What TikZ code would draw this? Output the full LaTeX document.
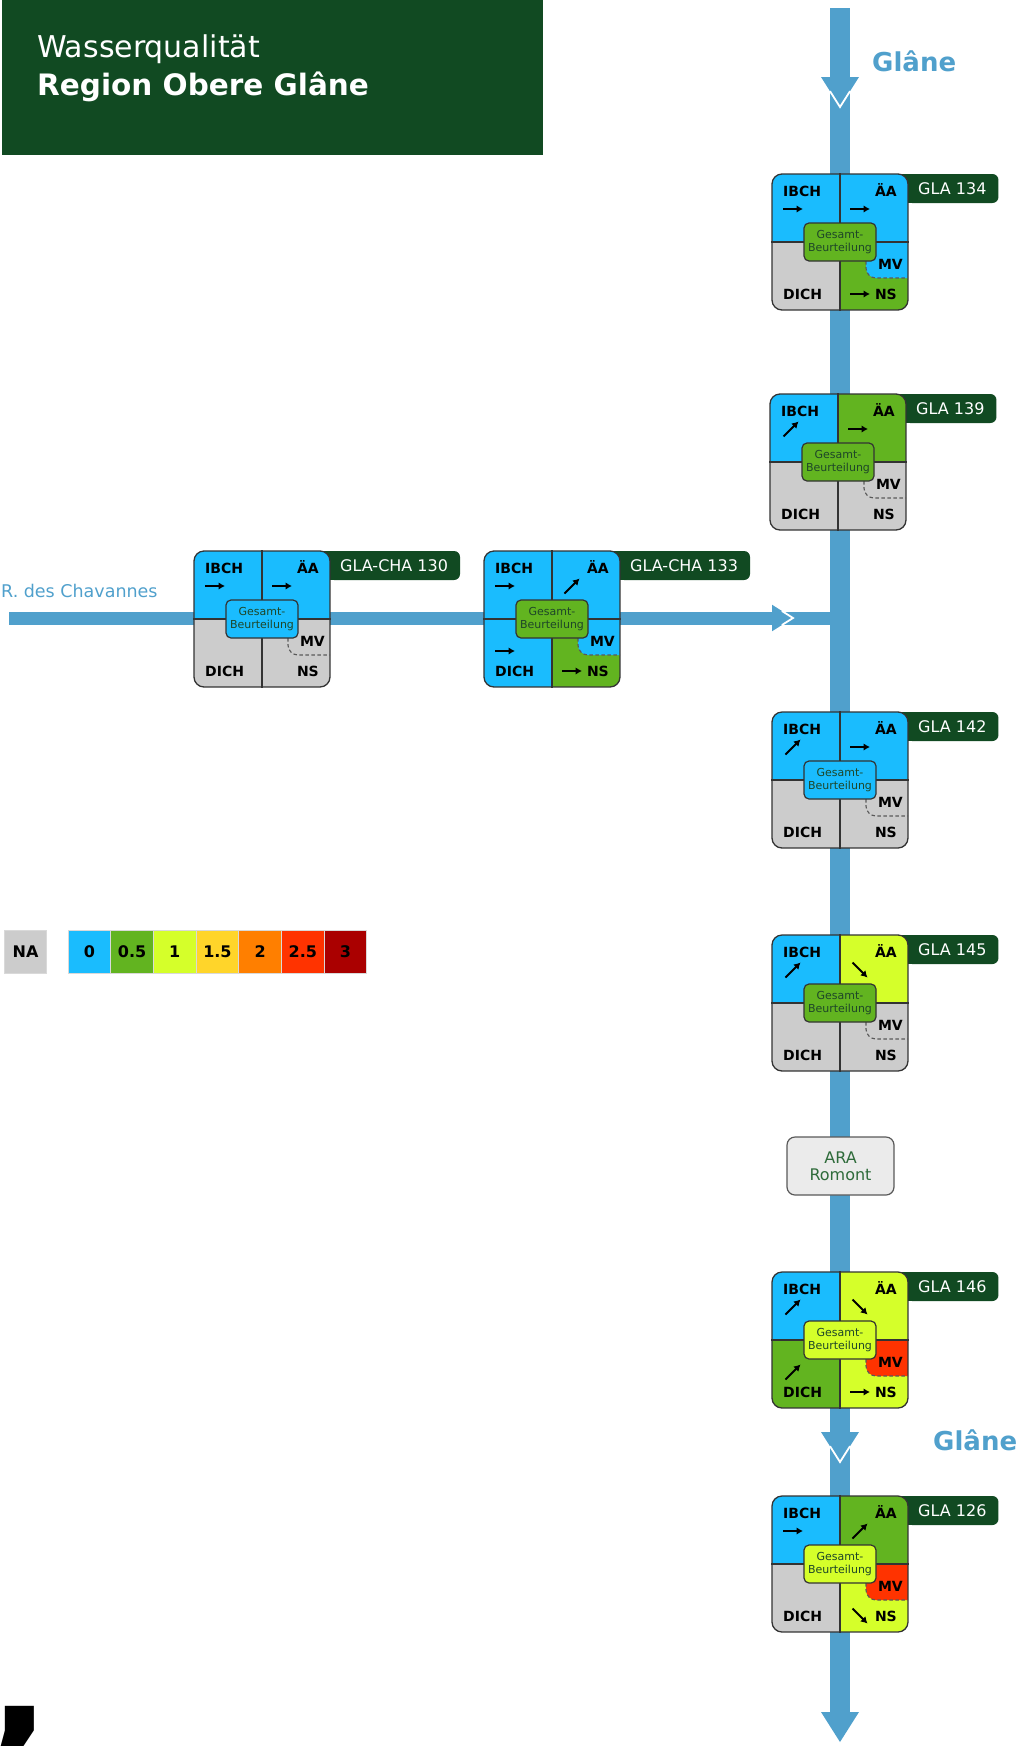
\documentclass[tikz,border=0pt]{standalone}
\usepackage{fontspec}
\setmainfont{DejaVu Sans}
\usepackage{tikz}
\usetikzlibrary{arrows.meta,positioning,calc}
\definecolor{riverblue}{RGB}{80,160,204}
\definecolor{darkgreen}{RGB}{17,74,34}
\definecolor{aragreen}{RGB}{46,107,58}
\definecolor{gtext}{RGB}{30,70,40}
\definecolor{q0}{RGB}{26,188,254}
\definecolor{q05}{RGB}{98,180,32}
\definecolor{q1}{RGB}{213,255,42}
\definecolor{q15}{RGB}{255,213,42}
\definecolor{q2}{RGB}{255,127,0}
\definecolor{q25}{RGB}{255,51,0}
\definecolor{q3}{RGB}{170,0,0}
\definecolor{qna}{RGB}{204,204,204}
\newcommand\fsz[2][1.2]{\fontsize{#2}{#1\dimexpr #2pt\relax}\selectfont}
\tikzset{
  river/.style={draw=riverblue, line width=20},
  riverlabel/.style={anchor=base west, font=\fsz{26}\bfseries, text=riverblue},
  headbox/.style={fill=darkgreen, minimum width=541, minimum height=155},
  card/.style={draw=black!80, line width=1.3, rounded corners=10, minimum size=136},
  divider/.style={draw=black!80, line width=1.1},
  mvline/.style={draw=black!65, line width=1.1, dash pattern=on 3.5pt off 2.5pt},
  gesamt/.style={draw=black!80, line width=1.2, rounded corners=5, minimum width=72,
    minimum height=38, align=center, font=\fsz[1.25]{11}, text=gtext},
  qlabel/.style={font=\fsz{14}\bfseries},
  tab/.style={fill=darkgreen, text=white, font=\fsz{16}, inner xsep=12, minimum height=29,
    rounded corners=6},
  ara/.style={draw=black!65, line width=1.2, fill=black!8, rounded corners=8, minimum width=107,
    minimum height=58, align=center, font=\fsz[1.05]{16}, text=aragreen},
  legendbox/.style={draw=black!15, line width=1, minimum width=42.7, minimum height=43,
    font=\fsz{16}\bfseries},
  trendarrow/.style={-{Latex[length=6.5pt,width=7.5pt]}, line width=2},
  pics/flowhead/.style={code={
    \fill[riverblue] (-30,-19) -- (0,0) -- (-30,19) -- cycle;
    \draw[white, line width=1.8] (-15.8,-10) -- (0,0) -- (-15.8,10);
  }},
  pics/flowend/.style={code={
    \fill[riverblue] (-30,-19) -- (0,0) -- (-30,19) -- cycle;
  }},
  pics/trend r/.style={code={\draw[trendarrow] (-10,0) -- (10,0);}},
  pics/trend u/.style={code={\draw[trendarrow] (-7.5,7.5) -- (7.5,-7.5);}},
  pics/trend d/.style={code={\draw[trendarrow] (-7.5,-7.5) -- (7.5,7.5);}},
  pics/trend n/.style={code={}}
}

\begin{document}
\begin{tikzpicture}[x=1pt, y=-1pt, every node/.style={inner sep=0}]
    \useasboundingbox (0,0) rectangle (1024,1746);

    \node[headbox, anchor=north west] (head) at (2,0) {};
    \node[anchor=base west, font=\fsz{30}, text=white] (head1) at (37,57) {Wasserqualität};
    \node[anchor=base west, font=\fsz{29.5}\bfseries, text=white] (head2) at (37,95) {Region Obere Glâne};

    \coordinate (src) at (840,8);
    \coordinate (mouth) at (840,1714);
    \coordinate (chasrc) at (9,618);
    \coordinate (chamouth) at (840,618);
    \draw[river] (src) -- (mouth);
    \draw[river, line width=13] (chasrc) -- (chamouth);
    \pic[rotate=-90] at (840,107) {flowhead};
    \pic[rotate=-90] at (840,1462) {flowhead};
    \pic[rotate=-90] at (840,1742) {flowend};
    \pic[scale=0.7] at (793,618) {flowhead};

    \node[riverlabel] (glane1) at (872,71) {Glâne};
    \node[riverlabel] (glane2) at (933,1450) {Glâne};
    \node[anchor=base west, font=\fsz{17.5}, text=riverblue] (chav) at (1,597) {R. des Chavannes};

    \node[ara] (ara) at (840.5,1166) {ARA\\Romont};

    \foreach \id/\cx/\cy/\cI/\cA/\cD/\cM/\cN/\cG/\aI/\aA/\aD/\aN/\lab in {
        134/840/242/q0/q0/qna/q0/q05/q05/r/r/n/r/GLA 134,
        139/838/462/q0/q05/qna/qna/qna/q05/u/r/n/n/GLA 139,
        130/262/619/q0/q0/qna/qna/qna/q0/r/r/n/n/GLA-CHA 130,
        133/552/619/q0/q0/q0/q0/q05/q05/r/u/r/r/GLA-CHA 133,
        142/840/780/q0/q0/qna/qna/qna/q0/u/r/n/n/GLA 142,
        145/840/1003/q0/q1/qna/qna/qna/q05/u/d/n/n/GLA 145,
        146/840/1340/q0/q1/q05/q25/q1/q1/u/d/u/r/GLA 146,
        126/840/1564/q0/q05/qna/q25/q1/q1/r/u/n/d/GLA 126} {
      \fill[darkgreen] (\cx+40,\cy-68) rectangle (\cx+72,\cy-39);
      \node[tab, anchor=west] (t\id) at (\cx+66,\cy-53.5) {\lab};
      \begin{scope}
        \clip[rounded corners=10] (\cx-68,\cy-68) rectangle (\cx+68,\cy+68);
        \fill[\cI] (\cx-68,\cy-68) rectangle (\cx,\cy);
        \fill[\cA] (\cx,\cy-68) rectangle (\cx+68,\cy);
        \fill[\cD] (\cx-68,\cy) rectangle (\cx,\cy+68);
        \fill[\cN] (\cx,\cy) rectangle (\cx+68,\cy+68);
        \fill[\cM] (\cx+26,\cy) -- (\cx+26,\cy+26) arc[start angle=180, end angle=90, radius=10]
          -- (\cx+68,\cy+36) -- (\cx+68,\cy) -- cycle;
      \end{scope}
      \node[card] (c\id) at (\cx,\cy) {};
      \draw[divider] (c\id.north) -- (c\id.south) (c\id.west) -- (c\id.east);
      \draw[mvline] (\cx+26,\cy+19) -- (\cx+26,\cy+26) arc[start angle=180, end angle=90, radius=10]
        -- (\cx+68,\cy+36);
      \node[gesamt, fill=\cG] (g\id) at (c\id) {Gesamt-\\Beurteilung};
      \node[qlabel, anchor=base west] (i\id) at (\cx-57,\cy-46) {IBCH};
      \node[qlabel, anchor=base east] (a\id) at (\cx+57,\cy-46) {ÄA};
      \node[qlabel, anchor=base west] (d\id) at (\cx-57,\cy+57) {DICH};
      \node[qlabel, anchor=base east] (n\id) at (\cx+57,\cy+57) {NS};
      \node[qlabel, anchor=base east] (m\id) at (\cx+63,\cy+27) {MV};
      \pic at (\cx-47,\cy-33) {trend \aI};
      \pic at (\cx+20,\cy-33) {trend \aA};
      \pic at (\cx-47,\cy+32) {trend \aD};
      \pic at (\cx+20,\cy+52) {trend \aN};
    }

    \node[legendbox, fill=qna] (na) at (25.5,951.5) {NA};
    \foreach \v/\col [count=\k] in {0/q0,0.5/q05,1/q1,1.5/q15,2/q2,2.5/q25,3/q3}
      \node[legendbox, fill=\col] (l\k) at ({68+42.7*(\k-0.5)},951.5) {\v};

    \node[anchor=base west, font=\fsz{165}\bfseries] (comma) at (-12,1737) {,};
\end{tikzpicture}
\end{document}
